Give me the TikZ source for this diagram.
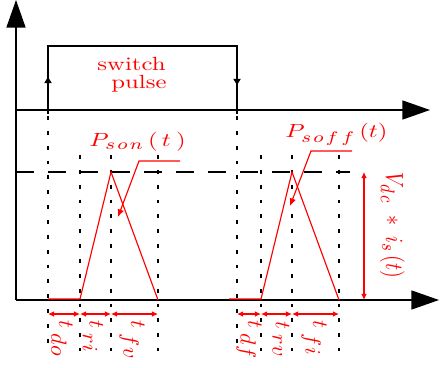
\documentclass[tikz,border=0pt]{standalone}
\usepackage{graphicx}
\usetikzlibrary{arrows.meta}
\DeclareMathSizes{10}{10}{8}{6}
\definecolor{pred}{RGB}{255,0,0}
\newcommand\wide[1]{\scalebox{1.3}[1]{#1}}
\newcommand\tall[1]{\scalebox{1.05}[1.3]{#1}}
\newcommand\tlab[1]{\scalebox{1.15}{#1}}
\begin{document}
\begin{tikzpicture}[x=0.525pt,y=-0.525pt,
  axis/.style={black, line width=0.7pt, -{Triangle[length=14.5pt,width=10pt]}},
  pulseline/.style={black, line width=0.6pt},
  pulsetip/.style={black, line width=0.6pt, -{Triangle[length=3.2pt,width=3.8pt]}},
  dotv/.style={black, line width=0.7pt, dash pattern=on 2pt off 5.8pt},
  dashh/.style={black, line width=0.7pt, dash pattern=on 9.5pt off 7.3pt},
  wave/.style={pred, line width=0.6pt},
  pointer/.style={pred, line width=0.6pt, -{Latex[length=4pt,width=3.5pt]}},
  span/.style={pred, line width=0.6pt, {Latex[length=3.2pt,width=3pt]}-{Latex[length=3.2pt,width=3pt]}},
  lbl/.style={text=pred, inner sep=0pt}]
\useasboundingbox (0,0) rectangle (440,367);

% axes
\coordinate (O) at (16,300);
\coordinate (Ytop) at (16,0);
\coordinate (Xend) at (439,300);
\coordinate (U0) at (16,110);
\coordinate (Uend) at (430,110);
\draw[axis] (O) -- (Ytop);
\draw[axis] (O) -- (Xend);
\draw[axis] (U0) -- (Uend);

% switch pulse
\coordinate (pa) at (48,114);
\coordinate (pb) at (48,46);
\coordinate (pc) at (237,46);
\coordinate (pd) at (237,114);
\draw[pulseline] (pa) -- (pb) -- (pc) -- (pd);
\draw[pulsetip] (48,110) -- (48,77);
\draw[pulsetip] (237,46) -- (237,85);
\node[lbl, anchor=base east] (sw) at (166,71) {\wide{switch}};
\node[lbl, anchor=base east] (pu) at (167,89) {\wide{pulse}};

% dashed level
\coordinate (d0) at (16,172);
\coordinate (d1) at (350,172);
\draw[dashh] (d0) -- (d1);

% dotted verticals
\foreach \x/\ys in {48/116,80/155,111/155,158/155,237/116,261/155,292/155,339/155}{
  \draw[dotv] (\x,\ys) -- (\x,351);
}

% waveforms
\coordinate (a0) at (48,299);
\coordinate (a1) at (80,299);
\coordinate (a2) at (111,172);
\coordinate (a3) at (158,300);
\draw[wave] (a0) -- (a1) -- (a2) -- (a3);
\coordinate (b0) at (229,299);
\coordinate (b1) at (261,299);
\coordinate (b2) at (292,172);
\coordinate (b3) at (339,300);
\draw[wave] (b0) -- (b1) -- (b2) -- (b3);

% labels with pointers
\node[lbl, anchor=base west] (pson) at (89,147)
  {\wide{$P_{s\mkern2mu o\mkern2mu n}\mkern3mu(\mkern3mu t\mkern4mu)$}};
\coordinate (ps1) at (180,161);
\coordinate (ps2) at (139,161);
\coordinate (ps3) at (118,217);
\draw[pointer] (ps1) -- (ps2) -- (ps3);

\node[lbl, anchor=base west] (psoff) at (285,138)
  {\wide{$P_{s\mkern2mu o\mkern2mu f\mkern3mu f}\mkern3mu(t)$}};
\coordinate (pf1) at (352,151);
\coordinate (pf2) at (311,151);
\coordinate (pf3) at (290,206);
\draw[pointer] (pf1) -- (pf2) -- (pf3);

% Vdc * is(t)
\coordinate (v0) at (364,172);
\coordinate (v1) at (364,300);
\draw[span] (v0) -- (v1);
\node[lbl, rotate=-90, anchor=base west] (vdc) at (386,172)
  {\tall{$V_{d\mkern3mu c}\mkern6mu *\mkern6mu i_{s}\mkern3mu(t)$}};

% time intervals
\foreach \xa/\xb in {48/80,80/111,111/158,237/261,261/292,292/339}{
  \draw[span] (\xa,314) -- (\xb,314);
}
\node[lbl, rotate=-90, anchor=west] (tdo) at (62,320) {\tlab{$t_{\textstyle\mkern4mu d\mkern1mu o}$}};
\node[lbl, rotate=-90, anchor=west] (tri) at (93,320) {\tlab{$t_{\textstyle\mkern4mu r\mkern1mu i}$}};
\node[lbl, rotate=-90, anchor=west] (tfv) at (132,320) {\tlab{$t_{\textstyle\mkern4mu f\mkern1mu v}$}};
\node[lbl, rotate=-90, anchor=west] (tdf) at (249,320) {\tlab{$t_{\textstyle\mkern4mu d\mkern1mu f}$}};
\node[lbl, rotate=-90, anchor=west] (trv) at (281,321) {\tlab{$t_{\textstyle\mkern4mu r\mkern1mu v}$}};
\node[lbl, rotate=-90, anchor=west] (tfi) at (314,320) {\tlab{$t_{\textstyle\mkern4mu f\mkern1mu i}$}};
\end{tikzpicture}
\end{document}
